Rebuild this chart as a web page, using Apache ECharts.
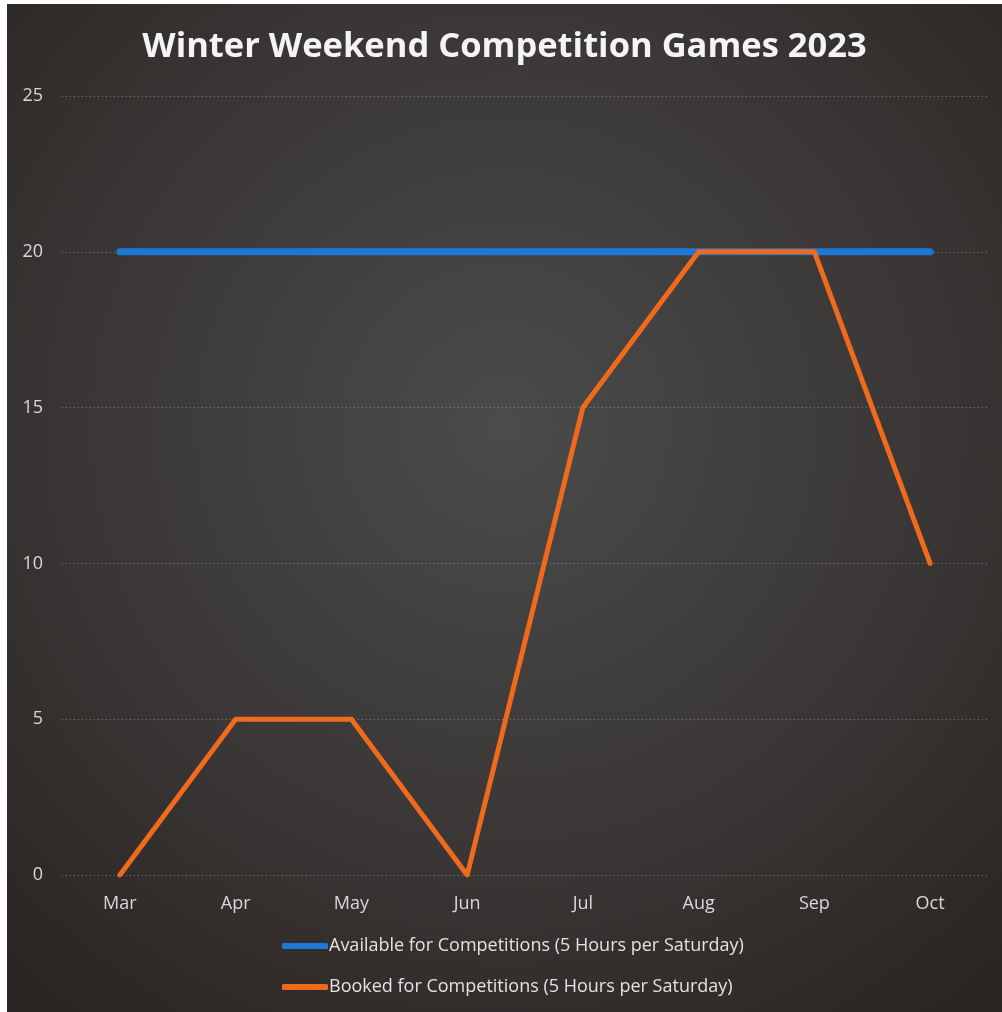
<!DOCTYPE html>
<html>
<head>
<meta charset="utf-8">
<script src="https://cdn.jsdelivr.net/npm/echarts@6/dist/echarts.min.js"></script>
<style>
  html, body { margin: 0; padding: 0; background: #ffffff; }
  #chart { position: absolute; left: 7px; top: 4px; width: 995px; height: 1008px; }
</style>
</head>
<body>
<div id="chart"></div>
<script>
// Monthly competition slots over the winter season
const months = ['Mar', 'Apr', 'May', 'Jun', 'Jul', 'Aug', 'Sep', 'Oct'];
const available = [20, 20, 20, 20, 20, 20, 20, 20];
const booked = [0, 5, 5, 0, 15, 20, 20, 10];
const yTicks = [0, 5, 10, 15, 20, 25];

const chart = echarts.init(document.getElementById('chart'));
chart.setOption({
  backgroundColor: {
    type: 'radial', x: 0.5, y: 0.42, r: 0.75,
    colorStops: [
      { offset: 0, color: '#4b4b4b' },
      { offset: 0.55, color: '#3a3736' },
      { offset: 1, color: '#2a2422' }
    ]
  },
  title: {
    text: 'Winter Weekend Competition Games 2023',
    left: 'center', top: 21,
    textStyle: { color: '#f4f4f4', fontFamily: 'Open Sans', fontWeight: 'bold', fontSize: 34.5 }
  },
  grid: { left: 55, right: 14, top: 92, bottom: 137 },
  legend: {
    orient: 'vertical', left: 270, top: 928,
    itemWidth: 46, itemHeight: 6, itemGap: 23,
    textStyle: { color: '#e2e2e2', fontFamily: 'Open Sans', fontSize: 18, padding: [0, 0, 0, -4] },
    data: [
      { name: 'Available for Competitions (5 Hours per Saturday)', icon: 'roundRect' },
      { name: 'Booked for Competitions (5 Hours per Saturday)', icon: 'roundRect' }
    ]
  },
  xAxis: {
    type: 'category', data: months, boundaryGap: true,
    axisLine: { show: false }, axisTick: { show: false },
    axisLabel: { color: '#d8d8d8', fontFamily: 'Open Sans', fontSize: 18, margin: 20 }
  },
  yAxis: {
    type: 'value', min: 0, max: 25, interval: 5,
    axisLine: { show: false }, axisTick: { show: false },
    axisLabel: { color: '#d8d8d8', fontFamily: 'Open Sans', fontSize: 18, margin: 19,
      formatter: v => yTicks.includes(v) ? String(v) : '' },
    splitLine: { lineStyle: { color: 'rgba(220,220,220,0.45)', type: [1, 3], width: 1 } }
  },
  series: [
    {
      name: 'Available for Competitions (5 Hours per Saturday)',
      type: 'line', data: available, symbol: 'none',
      color: '#1d78d6',
      lineStyle: { width: 7, color: '#1d78d6', cap: 'round' },
      z: 2
    },
    {
      name: 'Booked for Competitions (5 Hours per Saturday)',
      type: 'line', data: booked, symbol: 'none',
      color: '#f06a1e',
      lineStyle: { width: 5, color: '#f06a1e', cap: 'round', join: 'round' },
      z: 3
    }
  ]
});
</script>
</body>
</html>
